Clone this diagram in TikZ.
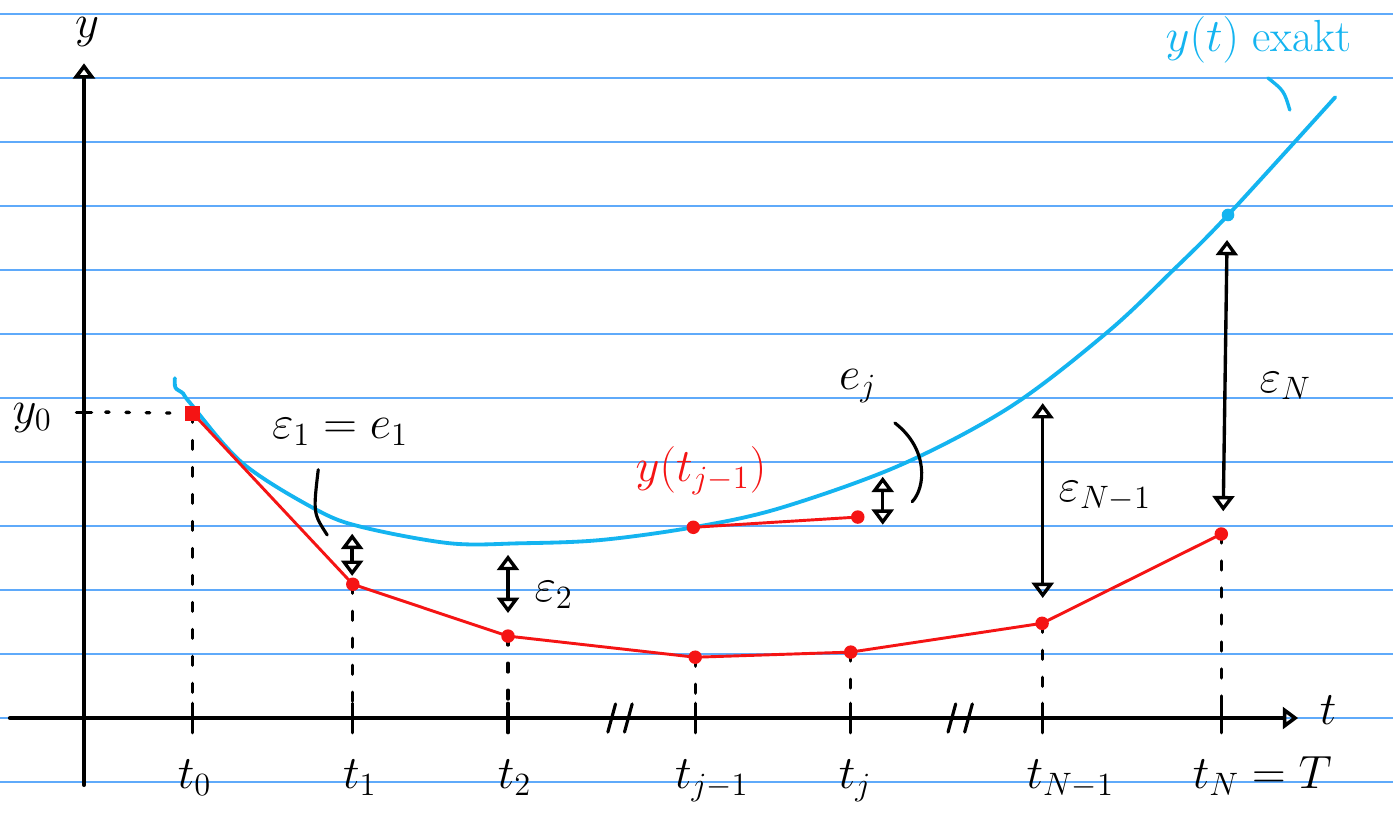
\documentclass[tikz,border=0pt]{standalone}
\usetikzlibrary{arrows.meta}
\definecolor{paperblue}{RGB}{95,170,250}
\definecolor{exaktcyan}{RGB}{20,180,240}
\definecolor{approxred}{RGB}{245,20,20}
\begin{document}
\begin{tikzpicture}[>={Triangle[open,length=2.4mm,width=3.4mm]},line join=round,line cap=round,every node/.style={font=\fontsize{20}{24}\selectfont},dashline/.style={line width=1.4pt,dash pattern=on 4pt off 8pt},declare function={xmin = -1.16; xmax = 18.97; ymin = -1.05; ymax = 10.23;}]
\useasboundingbox[fill=white] (-1.3125,-1.547) rectangle (20.453,11.219);
% lined paper
\foreach \k in {-1,...,11}
\draw[paperblue,line width=0.7pt] (-1.3125,\k) -- (20.453,\k);
\path
(0,0) coordinate (O)
(1.70,4.76) coordinate (P0)
(4.20,2.09) coordinate (P1)
(6.625,1.28) coordinate (P2)
(9.55,0.95) coordinate (Pj1)
(11.98,1.03) coordinate (Pj)
(14.97,1.48) coordinate (PN1)
(17.77,2.875) coordinate (PN)
(9.52,2.98) coordinate (Y1)
(12.09,3.14) coordinate (Yj)
(17.875,7.86) coordinate (YN);
% exact solution
\draw[exaktcyan,line width=1.7pt] plot[smooth,tension=0.55] coordinates {(1.42,5.31) (1.43,5.16) (1.55,5.07) (1.66,4.92) (2.48,3.98) (3.64,3.25) (4.36,2.98) (5.72,2.73) (6.81,2.73) (8.06,2.78) (Y1) (10.875,3.28) (12.75,3.95) (14.47,4.86) (15.98,6.02) (17.02,7.0) (YN) (19.55,9.70)};
\fill[exaktcyan] (YN) circle (2.8pt);
% dashed lines and ticks
\foreach \p in {P0,P1,P2,Pj1,Pj,PN1,PN}{
\draw[dashline] (\p) -- (\p |- O);
\draw[line width=1.4pt] (\p |- O) +(0,-0.23) -- +(0,0.23);
}
\foreach \b in {8.375,13.69}
\foreach \d in {-0.13,0.13}
\draw[line width=1.4pt] (\b+\d+0.06,0.22) -- (\b+\d-0.06,-0.22);
% axes
\draw[->,line width=1.6pt] (xmin,0) -- (xmax,0);
\draw[->,line width=1.6pt] (0,ymin) -- (0,ymax);
\node (tlab) at (19.44,0.12) {$t$};
\node[inner sep=0pt] (ylab) at (0.05,10.72) {$y$};
% y_0
\draw[line width=1.4pt] (-0.12,4.78) -- (0.12,4.78);
\draw[line width=1.5pt,dash pattern=on 1.5pt off 7.5pt] (0.34,4.78) -- (P0);
\node (y0) at (-0.81,4.69) {$y_0$};
% approximation
\draw[approxred,line width=1.3pt] (P0) -- (P1) -- (P2) -- (Pj1) -- (Pj) -- (PN1) -- (PN);
\draw[approxred,line width=1.3pt] (Y1) -- (Yj);
\fill[approxred] (P0) +(-3.3pt,-3.3pt) rectangle +(3.3pt,3.3pt);
\foreach \p in {P1,P2,Pj1,Pj,PN1,PN,Y1,Yj}
\fill[approxred] (\p) circle (3pt);
% errors
\draw[<->,line width=1.5pt] (4.19,2.88) -- (4.19,2.22);
\draw[<->,line width=1.5pt] (6.625,2.55) -- (6.625,1.64);
\draw[<->,line width=1.5pt] (12.48,3.77) -- (12.48,3.02);
\draw[<->,line width=1.5pt] (14.98,4.92) -- (14.98,1.875);
\draw[<->,line width=1.5pt] (17.86,7.47) -- (17.80,3.23);
\draw[line width=1.4pt] (3.66,3.88) .. controls (3.58,3.2) .. (3.80,2.86);
\draw[line width=1.4pt] (12.67,4.61) .. controls (13.2,4.2) and (13.15,3.6) .. (12.94,3.38);
\draw[exaktcyan,line width=1.5pt] (18.5,10.0) .. controls (18.75,9.8) .. (18.84,9.5);
\node (e1) at (4.0,4.47) {$\varepsilon_1=e_1$};
\node (e2) at (7.34,1.92) {$\varepsilon_2$};
\node (ej) at (12.09,5.19) {$e_j$};
\node (eN1) at (15.95,3.47) {$\varepsilon_{N-1}$};
\node (eN) at (18.77,5.19) {$\varepsilon_N$};
\node[text=approxred] (yj1) at (9.64,3.86) {$y(t_{j-1})$};
\node[text=exaktcyan] (yex) at (18.35,10.59) {$y(t)$ exakt};
% time labels
\node[anchor=base] (t0) at (1.73,-1.1) {$t_0$};
\node[anchor=base] (t1) at (4.31,-1.1) {$t_1$};
\node[anchor=base] (t2) at (6.73,-1.1) {$t_2$};
\node[anchor=base] (tj1) at (9.81,-1.1) {$t_{j-1}$};
\node[anchor=base] (tj) at (12.05,-1.1) {$t_j$};
\node[anchor=base] (tN1) at (15.41,-1.1) {$t_{N-1}$};
\node[anchor=base] (tN) at (18.41,-1.1) {$t_N=T$};
\end{tikzpicture}
\end{document}
